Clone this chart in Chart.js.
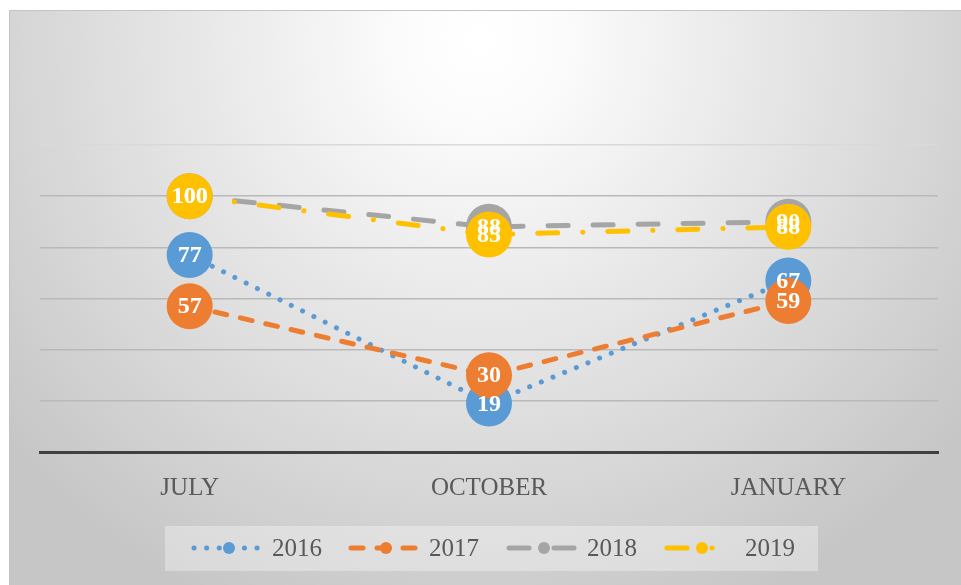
<!DOCTYPE html>
<html>
<head>
<meta charset="utf-8">
<script src="https://cdn.jsdelivr.net/npm/chart.js@4.4.1/dist/chart.umd.min.js"></script>
<style>
  html, body { margin: 0; padding: 0; background: #fff; }
  canvas { display: block; }
</style>
</head>
<body>
<canvas id="chart" width="961" height="585"></canvas>
<script>
// --- data ---
const months = ['JULY', 'OCTOBER', 'JANUARY'];
const years = ['2016', '2017', '2018', '2019'];
const values2016 = [77, 19, 67];
const values2017 = [57, 30, 59];
const values2018 = [100, 88, 90];
const values2019 = [100, 85, 88];
const yTicks = [0, 20, 40, 60, 80, 100, 120];

const colors = ['#5B9BD5', '#ED7D31', '#A5A5A5', '#FFC000'];
const dashes = [[0.1, 12.5], [12, 14], [20, 25], [20, 25, 0.1, 25]];
const allValues = [values2016, values2017, values2018, values2019];

const serif = '"Liberation Serif", "Times New Roman", serif';

// gradient panel behind everything
const panelBackground = {
    id: 'panelBackground',
    beforeDraw(chart) {
        const { ctx, width, height } = chart;
        ctx.save();
        ctx.fillStyle = '#ffffff';
        ctx.fillRect(0, 0, width, height);
        const g = ctx.createRadialGradient(480, 40, 0, 480, 40, 620);
        g.addColorStop(0, '#ffffff');
        g.addColorStop(0.12, '#fcfcfc');
        g.addColorStop(1, '#c6c6c6');
        ctx.fillStyle = g;
        ctx.fillRect(9, 10, width - 9, height - 10);
        ctx.strokeStyle = '#c4c4c4';
        ctx.lineWidth = 1;
        ctx.beginPath();
        ctx.moveTo(9.5, height);
        ctx.lineTo(9.5, 10.5);
        ctx.lineTo(width, 10.5);
        ctx.stroke();
        ctx.restore();
    }
};

// white value labels on top of the markers
const valueLabels = {
    id: 'valueLabels',
    afterDatasetsDraw(chart) {
        const ctx = chart.ctx;
        ctx.save();
        ctx.font = 'bold 24px ' + serif;
        ctx.fillStyle = '#ffffff';
        ctx.textAlign = 'center';
        ctx.textBaseline = 'middle';
        chart.data.datasets.forEach((ds, i) => {
            chart.getDatasetMeta(i).data.forEach((pt, j) => {
                ctx.fillText(String(ds.data[j]), pt.x, pt.y + 1);
            });
        });
        ctx.restore();
    }
};

// legend box at the bottom, drawn by hand so line styles show
const boxLegend = {
    id: 'boxLegend',
    afterDraw(chart) {
        const ctx = chart.ctx;
        const box = { x: 165, y: 526, w: 653, h: 45 };
        const cy = box.y + 22;
        const sample = 70;
        const starts = [194, 351, 509, 667];
        ctx.save();
        ctx.fillStyle = 'rgba(255,255,255,0.33)';
        ctx.fillRect(box.x, box.y, box.w, box.h);
        chart.data.datasets.forEach((ds, i) => {
            const x0 = starts[i];
            ctx.strokeStyle = ds.borderColor;
            ctx.lineWidth = 5;
            ctx.lineCap = 'round';
            ctx.setLineDash(ds.borderDash);
            ctx.beginPath();
            ctx.moveTo(x0, cy);
            ctx.lineTo(x0 + sample, cy);
            ctx.stroke();
            ctx.setLineDash([]);
            ctx.fillStyle = ds.borderColor;
            ctx.beginPath();
            ctx.arc(x0 + sample / 2, cy, 6, 0, 2 * Math.PI);
            ctx.fill();
            ctx.fillStyle = '#595959';
            ctx.font = '25px ' + serif;
            ctx.textAlign = 'left';
            ctx.textBaseline = 'middle';
            ctx.fillText(ds.label, x0 + sample + 8, cy + 1);
        });
        ctx.restore();
    }
};

const datasets = years.map((year, i) => ({
    label: year,
    data: allValues[i],
    borderColor: colors[i],
    backgroundColor: colors[i],
    borderWidth: 5,
    borderDash: dashes[i],
    borderCapStyle: 'round',
    pointRadius: 23,
    pointBorderWidth: 0,
    pointBackgroundColor: colors[i],
    tension: 0,
    order: years.length - 1 - i // later years drawn on top
}));

new Chart(document.getElementById('chart'), {
    type: 'line',
    data: { labels: months, datasets: datasets },
    options: {
        responsive: false,
        animation: false,
        events: [],
        layout: { padding: { left: 40, right: 18, top: 145, bottom: 0 } },
        plugins: {
            legend: { display: false },
            tooltip: { enabled: false }
        },
        scales: {
            x: {
                offset: true,
                grid: { display: false, drawTicks: false },
                border: { display: true, color: '#404040', width: 3 },
                ticks: {
                    color: '#595959',
                    font: { family: serif, size: 25 },
                    padding: 21
                },
                afterFit: (scale) => { scale.height = 133; }
            },
            y: {
                min: yTicks[0],
                max: yTicks[yTicks.length - 1],
                ticks: { stepSize: 20, display: false },
                grid: {
                    color: (c) => c.tick && c.tick.value === 120 ? '#d9d9d9' : '#b9b9b9',
                    lineWidth: 1.5,
                    drawTicks: false
                },
                border: { display: false },
                afterFit: (scale) => { scale.width = 0; }
            }
        }
    },
    plugins: [panelBackground, valueLabels, boxLegend]
});
</script>
</body>
</html>
